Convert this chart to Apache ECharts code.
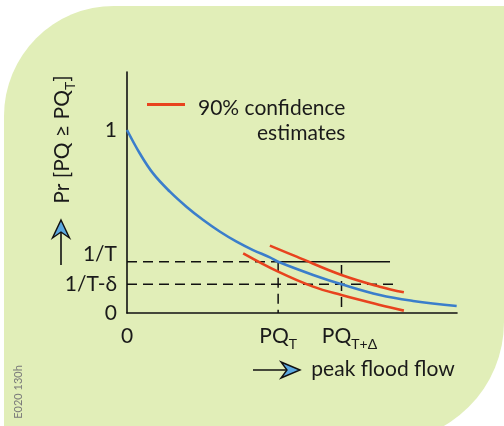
<!DOCTYPE html>
<html>
<head>
<meta charset="utf-8">
<script src="https://cdn.jsdelivr.net/npm/echarts@6/dist/echarts.min.js"></script>
<style>html,body{margin:0;padding:0;background:#fff;}#c{width:504px;height:426px;}</style>
</head>
<body>
<div id="c"></div>
<script>
// ---- data ----
const curveX = [0, 0.385, 0.79, 1.30, 1.80, 2.31, 2.82, 3.32, 3.82, 4.33, 4.58, 5.64, 6.50, 7.66, 8.67, 9.99];
const curveY = [1.0, 0.873, 0.763, 0.663, 0.581, 0.508, 0.444, 0.390, 0.344, 0.304, 0.280, 0.208, 0.157, 0.098, 0.066, 0.038];
const upperX = [4.33, 5.14, 6.50, 7.66, 8.39];
const upperY = [0.368, 0.308, 0.208, 0.144, 0.113];
const lowerX = [3.52, 4.58, 5.64, 6.50, 7.66, 8.39];
const lowerY = [0.326, 0.226, 0.144, 0.098, 0.044, 0.013];
const refY = [0.280, 0.157];          // 1/T, 1/T-δ
const refX = [4.58, 6.50];            // PQ_T, PQ_T+Δ
const refEndX = [7.97, 8.06];         // right ends of the horizontal guides
const refTopY = [0.280, 0.262];       // tops of the vertical guides
const yTickValues = [0, 0.157, 0.280, 1];
const yTickLabels = ['0', '1/T-δ', '1/T', '1'];
const xTickValues = [0, 4.58, 6.50];
const xTickLabels = ['{a|0}', '{a|PQ}{s|T}', '{p|PQ}{s|T+Δ}'];
const legendName = '90% confidence estimates';

const pairs = (xs, ys) => xs.map((x, i) => [x, ys[i]]);
const FONT = 'Lato';
const FS = 21;
const INK = '#1a1a1a';
const BLUE = '#3b7ecb', RED = '#e8431e';

const chart = echarts.init(document.getElementById('c'));
chart.setOption({
  backgroundColor: '#ffffff',
  animation: false,
  textStyle: { fontFamily: FONT },
  grid: { left: 127, right: 47, top: 72, bottom: 113, containLabel: false, outerBoundsMode: 'none' },
  legend: {
    data: [legendName],
    left: 147, top: 98, padding: 0,
    icon: 'rect', itemWidth: 38, itemHeight: 3,
    selectedMode: false,
    formatter: () => '{a|90% confidence}\n{b|estimates}',
    textStyle: {
      padding: [33, 0, 0, 8],
      color: INK,
      rich: {
        a: { fontSize: FS, lineHeight: 25, fontFamily: FONT, color: INK },
        b: { fontSize: FS, lineHeight: 25, fontFamily: FONT, color: INK, align: 'right' }
      }
    }
  },
  xAxis: {
    type: 'value', min: 0, max: 10,
    splitLine: { show: false },
    axisLine: { show: true, onZero: false, lineStyle: { color: '#111', width: 1.6 } },
    axisTick: { show: false },
    axisLabel: {
      customValues: xTickValues,
      margin: 10,
      formatter: (v) => xTickLabels[xTickValues.indexOf(v)] || '',
      rich: {
        a: { fontSize: FS, color: INK, fontFamily: FONT, lineHeight: 24, verticalAlign: 'bottom' },
        p: { fontSize: FS, color: INK, fontFamily: FONT, lineHeight: 24, verticalAlign: 'bottom', padding: [0, 0, 0, 16] },
        s: { fontSize: 14, color: INK, fontFamily: FONT, lineHeight: 14, verticalAlign: 'bottom', padding: [0, 0, -4, 0] }
      }
    },
    name: 'peak flood flow',
    nameLocation: 'middle',
    nameGap: 46,
    nameMoveOverlap: false,
    nameTextStyle: { fontSize: FS, color: INK, fontFamily: FONT, padding: [0, 0, 0, 182] }
  },
  yAxis: {
    type: 'value', min: 0, max: 1.317,
    splitLine: { show: false },
    axisLine: { show: true, onZero: false, lineStyle: { color: '#111', width: 1.6 } },
    axisTick: { show: false },
    axisLabel: {
      customValues: yTickValues,
      margin: 10,
      formatter: (v) => {
        const l = yTickLabels[yTickValues.indexOf(v)] || '';
        return l === '1/T' ? '{u|' + l + '}' : '{n|' + l + '}';
      },
      rich: {
        n: { fontSize: FS, color: INK, fontFamily: FONT },
        u: { fontSize: FS, color: INK, fontFamily: FONT, padding: [0, 0, 16, 0] }
      }
    },
    name: '{t|Pr [PQ ≥ PQ}{s|T}{t|]}',
    nameLocation: 'middle',
    nameRotate: 90,
    nameGap: 54,
    nameMoveOverlap: false,
    nameTextStyle: {
      padding: [0, 0, 0, 106],
      rich: {
        t: { fontSize: FS, color: INK, fontFamily: FONT, lineHeight: 24, verticalAlign: 'bottom' },
        s: { fontSize: 14, color: INK, fontFamily: FONT, lineHeight: 14, verticalAlign: 'bottom', padding: [0, 0, -4, 0] }
      }
    }
  },
  series: [
    { name: 'h1dash', type: 'line', data: [[0, refY[0]], [refX[0], refY[0]]], symbol: 'none', silent: true,
      lineStyle: { color: '#111', width: 1.5, type: [10, 6] }, z: 1 },
    { name: 'h1solid', type: 'line', data: [[refX[0], refY[0]], [refEndX[0], refY[0]]], symbol: 'none', silent: true,
      lineStyle: { color: '#111', width: 1.5 }, z: 1 },
    { name: 'h2dash', type: 'line', data: [[0, refY[1]], [refEndX[1], refY[1]]], symbol: 'none', silent: true,
      lineStyle: { color: '#111', width: 1.5, type: [10, 6] }, z: 1 },
    { name: 'v1dash', type: 'line', data: [[refX[0], refTopY[0]], [refX[0], 0]], symbol: 'none', silent: true,
      lineStyle: { color: '#111', width: 1.5, type: [10, 6] }, z: 1 },
    { name: 'v2dash', type: 'line', data: [[refX[1], refTopY[1]], [refX[1], 0]], symbol: 'none', silent: true,
      lineStyle: { color: '#111', width: 1.5, type: [10, 6] }, z: 1 },
    { name: legendName, type: 'line', data: pairs(upperX, upperY), symbol: 'none', smooth: 0.4, color: RED,
      lineStyle: { color: RED, width: 2.6 }, z: 2 },
    { name: legendName, type: 'line', data: pairs(lowerX, lowerY), symbol: 'none', smooth: 0.4, color: RED,
      lineStyle: { color: RED, width: 2.6 }, z: 2 },
    { name: 'curve', type: 'line', data: pairs(curveX, curveY), symbol: 'none', smooth: 0.4, color: BLUE,
      lineStyle: { color: BLUE, width: 2.6 }, z: 3 }
  ],
  graphic: [
    { type: 'rect', z: -10, silent: true,
      shape: { x: 4, y: 6, width: 500, height: 436, r: [110, 0, 120, 0] },
      style: { fill: '#e1eeb8' } },
    // y arrow
    { type: 'polyline', z: 10, silent: true, shape: { points: [[61, 265], [61, 224]] }, style: { stroke: '#111', lineWidth: 1.6 } },
    { type: 'polygon', z: 10, silent: true, shape: { points: [[61, 220], [69.5, 238], [61, 232], [52.5, 238]] },
      style: { fill: '#5ba8e0', stroke: '#111', lineWidth: 1.4 } },
    // x arrow
    { type: 'polyline', z: 10, silent: true, shape: { points: [[253, 370], [296, 370]] }, style: { stroke: '#111', lineWidth: 1.6 } },
    { type: 'polygon', z: 10, silent: true, shape: { points: [[300, 370], [281, 362], [287, 370], [281, 378]] },
      style: { fill: '#5ba8e0', stroke: '#111', lineWidth: 1.4 } },
    { type: 'text', z: 10, silent: true, x: 18, y: 392, rotation: Math.PI / 2,
      style: { text: 'E020 130h', fontSize: 11, fill: '#7a7a7a', fontFamily: FONT, align: 'center', verticalAlign: 'middle' } }
  ]
});
</script>
</body>
</html>
